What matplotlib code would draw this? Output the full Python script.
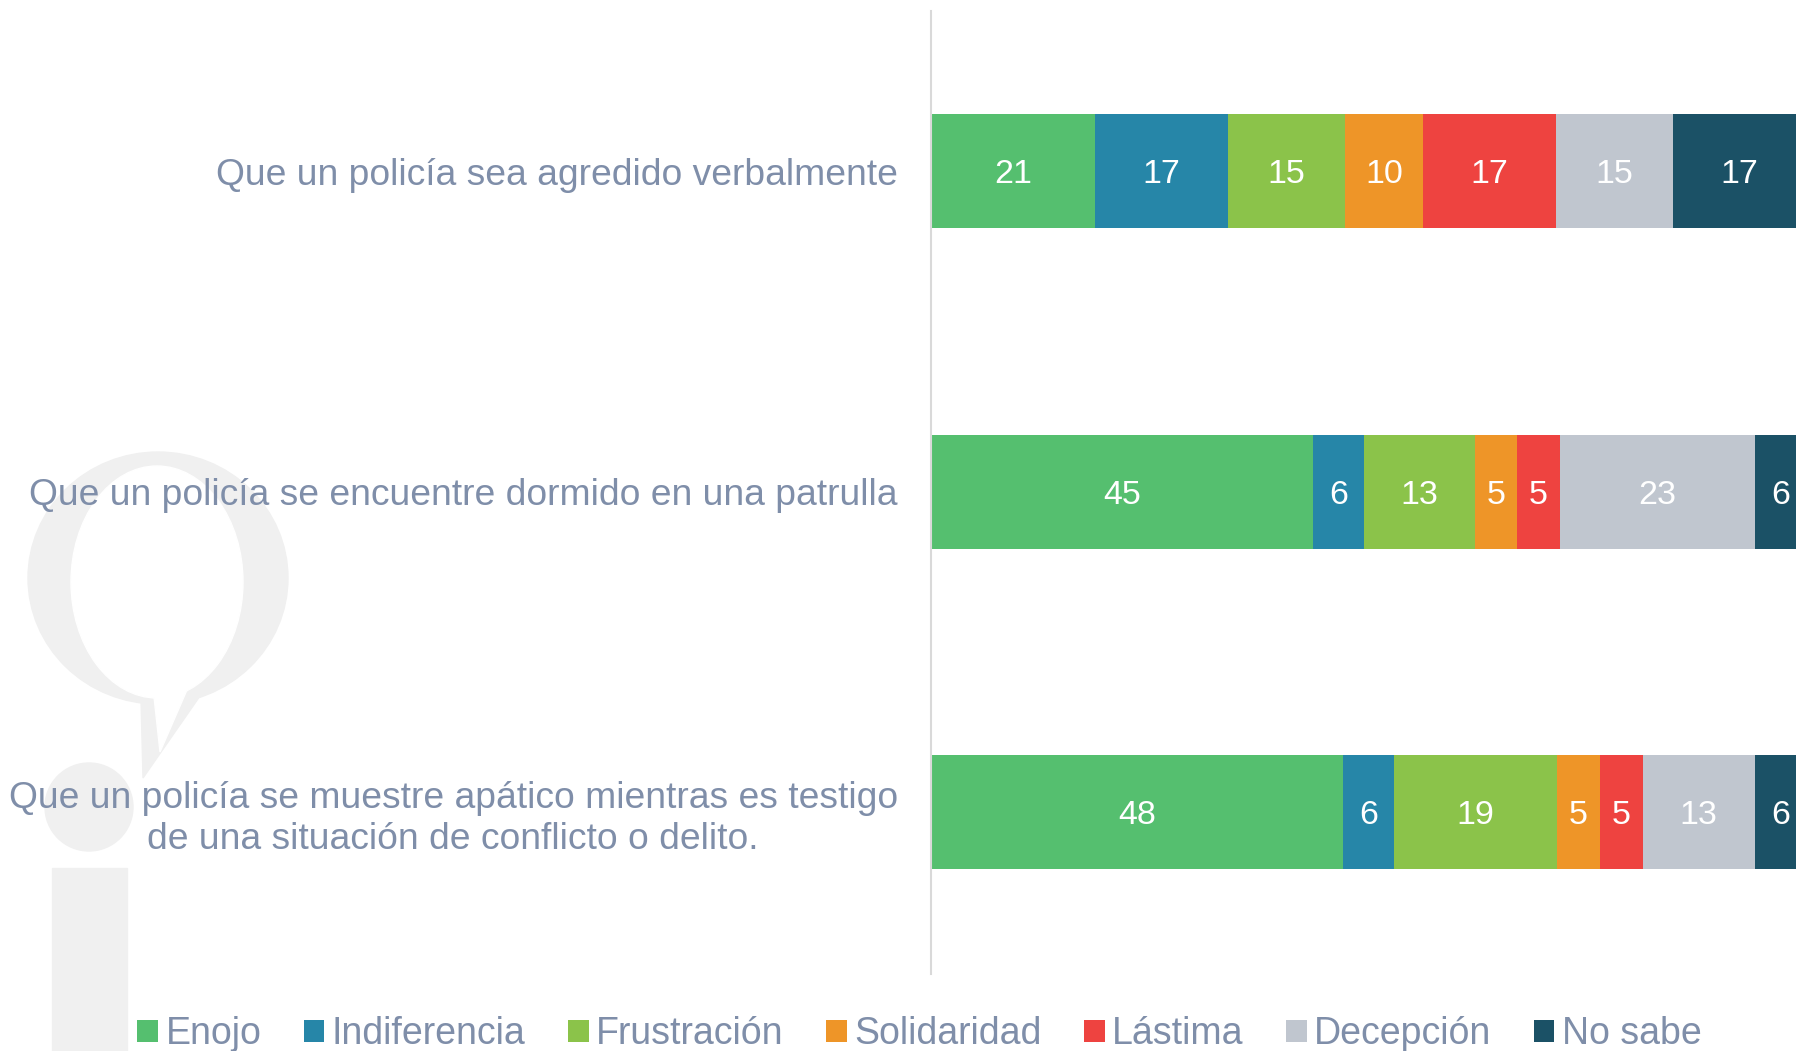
import matplotlib
matplotlib.use("Agg")
import matplotlib.pyplot as plt
import numpy as np
from matplotlib.patches import Ellipse, Circle, Polygon, Rectangle

plt.rcParams['font.family'] = ['Liberation Sans', 'DejaVu Sans']

# data
preguntas = [
    "Que un policía sea agredido verbalmente",
    "Que un policía se encuentre dormido en una patrulla",
    "Que un policía se muestre apático mientras es testigo\nde una situación de conflicto o delito.",
]
categorias = ["Enojo", "Indiferencia", "Frustración", "Solidaridad", "Lástima", "Decepción", "No sabe"]
enojo = [21, 45, 48]
indiferencia = [17, 6, 6]
frustracion = [15, 13, 19]
solidaridad = [10, 5, 5]
lastima = [17, 5, 5]
decepcion = [15, 23, 13]
no_sabe = [17, 6, 6]

colores = ["#55bf6f", "#2686a8", "#8bc34a", "#ee9528", "#ee4340", "#c0c6cf", "#1b5166"]
text_color = "#7f8ea9"

series = np.array([enojo, indiferencia, frustracion, solidaridad, lastima, decepcion, no_sabe], dtype=float)
totales = series.sum(axis=0)
pct = series / totales * 100

fig = plt.figure(figsize=(17.96, 10.51), dpi=100)

# faint logo in the background (drawn in pixel coords)
bg = fig.add_axes([0, 0, 1, 1], zorder=0)
bg.set_xlim(0, 1796)
bg.set_ylim(1051, 0)
bg.axis("off")
gris = "#f0f0f0"
bg.add_patch(Ellipse((158, 578), 260, 252, color=gris))
bg.add_patch(Polygon([(140, 660), (225, 660), (143, 778)], color=gris))
bg.add_patch(Ellipse((157, 582), 172, 232, color="white"))
bg.add_patch(Polygon([(150, 660), (200, 660), (160, 752)], color="white"))
bg.add_patch(Circle((89, 807), 44, color=gris))
bg.add_patch(Rectangle((52, 868), 75, 200, color=gris))

ax = fig.add_axes([931 / 1796, 77 / 1051, 875 / 1796, 963 / 1051], zorder=1)
ax.patch.set_alpha(0)

y = np.arange(len(preguntas))
left = np.zeros(len(preguntas))
for i, cat in enumerate(categorias):
    bars = ax.barh(y, pct[i], left=left, height=0.355, color=colores[i], label=cat)
    for j, b in enumerate(bars):
        ax.text(left[j] + pct[i][j] / 2, y[j], str(int(series[i][j])),
                ha="center", va="center_baseline", color="white", fontsize=24.5)
    left = left + pct[i]

ax.set_xlim(0, 100)
ax.set_ylim(2.505, -0.5)
ax.set_yticks(y)
ax.set_yticklabels(preguntas, fontsize=26.8, color=text_color)
for lbl in ax.get_yticklabels():
    lbl.set_multialignment("center")
ax.tick_params(axis="y", length=0, pad=24)
ax.set_xticks([])
for s in ["top", "right", "bottom"]:
    ax.spines[s].set_visible(False)
ax.spines["left"].set_color("#d9d9d9")
ax.spines["left"].set_linewidth(1.5)

handles, labels = ax.get_legend_handles_labels()
leg = fig.legend(handles, labels, loc="center", bbox_to_anchor=(0.512, 0.016), ncol=7,
                 frameon=False, fontsize=27, handlelength=0.55, handleheight=0.55,
                 handletextpad=0.2, columnspacing=1.13, labelcolor=text_color)

fig.savefig("out.png", dpi=100)
